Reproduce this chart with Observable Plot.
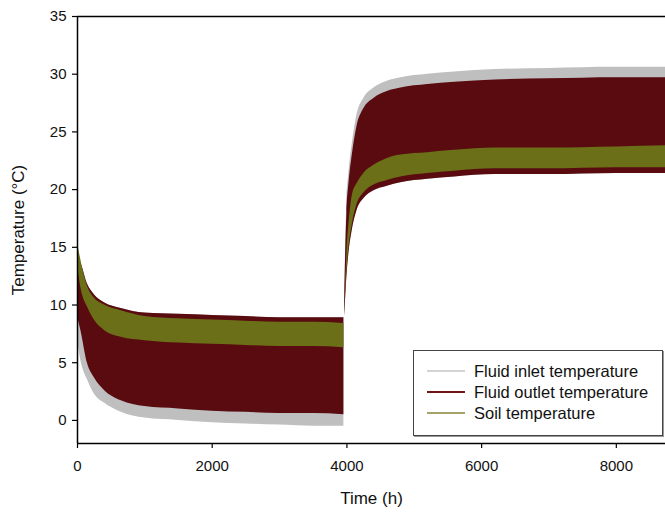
<!DOCTYPE html>
<html>
<head>
<meta charset="utf-8">
<script src="https://cdn.jsdelivr.net/npm/d3@7"></script>
<script src="https://cdn.jsdelivr.net/npm/@observablehq/plot@0.6"></script>
<style>
  body { margin: 0; background: #fff; }
  #wrap { position: relative; width: 665px; height: 514px; overflow: hidden; }
  #legend { position: absolute; left: 413px; top: 350px; width: 248px; height: 84px;
    border: 1px solid #444; background: #fff; box-shadow: 1px 1px 0 #999;
    font-family: "Liberation Sans", Arial, sans-serif; font-size: 16.5px; color: #111; }
  .row { position: absolute; left: 13px; height: 18px; display: flex; align-items: center; white-space: nowrap; }
  .sw { width: 38px; height: 2px; margin-right: 9px; }
</style>
</head>
<body>
<div id="wrap"><div id="chart"></div><div id="legend"></div></div>
<script>
// Winter (heating) period, hours
const t1 = [0, 50, 150, 250, 400, 650, 1000, 1500, 2000, 2500, 3000, 3500, 3955];
const inletLo1  = [7.0, 5.2, 3.5, 2.3, 1.5, 0.7, 0.2, 0.0, -0.2, -0.3, -0.4, -0.5, -0.5];
const inletHi1  = [14.0, 13.6, 11.8, 10.9, 10.2, 9.7, 9.3, 9.2, 9.1, 9.0, 8.9, 8.9, 8.9];
const outletLo1 = [9.0, 7.8, 4.9, 3.7, 2.6, 1.7, 1.2, 1.0, 0.8, 0.7, 0.6, 0.6, 0.5];
const outletHi1 = [14.0, 13.6, 11.8, 10.9, 10.2, 9.7, 9.3, 9.2, 9.1, 9.0, 8.9, 8.9, 8.9];
const soilLo1   = [13.5, 11.5, 9.8, 8.7, 7.8, 7.2, 6.9, 6.7, 6.6, 6.5, 6.4, 6.4, 6.3];
const soilHi1   = [15.4, 13.9, 11.6, 10.6, 10.0, 9.5, 9.0, 8.8, 8.7, 8.6, 8.5, 8.5, 8.4];

// Summer (cooling) period, hours
const t2 = [3965, 3980, 4000, 4030, 4080, 4150, 4250, 4400, 4600, 4800, 5200, 5600, 6200, 7000, 8000, 8760];
const inletLo2  = [9.0, 10.5, 12.5, 14.5, 16.5, 18.2, 19.2, 19.9, 20.3, 20.6, 20.9, 21.1, 21.3, 21.3, 21.4, 21.4];
const inletHi2  = [10.5, 15, 19, 21.5, 24, 26.5, 27.9, 28.8, 29.4, 29.7, 30.0, 30.2, 30.4, 30.5, 30.6, 30.6];
const outletLo2 = [9.0, 10.5, 12.5, 14.5, 16.5, 18.2, 19.2, 19.9, 20.3, 20.6, 20.9, 21.1, 21.3, 21.3, 21.4, 21.4];
const outletHi2 = [10, 14, 18, 20.5, 23, 25.5, 27.0, 27.9, 28.5, 28.8, 29.1, 29.3, 29.5, 29.6, 29.7, 29.7];
const soilLo2   = [9.3, 11.0, 13.0, 15.0, 17.0, 18.7, 19.7, 20.4, 20.8, 21.1, 21.4, 21.6, 21.8, 21.8, 21.9, 21.9];
const soilHi2   = [9.6, 11.5, 14.5, 17.0, 19.5, 20.5, 21.4, 22.1, 22.7, 23.0, 23.2, 23.4, 23.6, 23.6, 23.7, 23.8];

const seriesNames = ["Fluid inlet temperature", "Fluid outlet temperature", "Soil temperature"];
const seriesColors = ["#bfbfbf", "#590b10", "#6a6f18"];
const legendColors = ["#d4d4d4", "#6e1518", "#a3a36a"];
const xTicks = [0, 2000, 4000, 6000, 8000];
const yTicks = [0, 5, 10, 15, 20, 25, 30, 35];

function rows(lo1, hi1, lo2, hi2) {
  const r = [];
  t1.forEach((t, i) => r.push({t, lo: lo1[i], hi: hi1[i], phase: "winter"}));
  t2.forEach((t, i) => r.push({t, lo: lo2[i], hi: hi2[i], phase: "summer"}));
  return r;
}
const inlet = rows(inletLo1, inletHi1, inletLo2, inletHi2);
const outlet = rows(outletLo1, outletHi1, outletLo2, outletHi2);
const soil = rows(soilLo1, soilHi1, soilLo2, soilHi2);

const font = '"Liberation Sans", Arial, sans-serif';
const chart = Plot.plot({
  width: 665, height: 514,
  marginLeft: 77, marginTop: 16, marginRight: 0, marginBottom: 71,
  style: {fontFamily: font, fontSize: "15px", color: "#111", background: "#fff"},
  x: {domain: [0, 8730]},
  y: {domain: [-2, 35]},
  marks: [
    Plot.areaY(inlet, {x: "t", y1: "lo", y2: "hi", z: "phase", fill: seriesColors[0], curve: "monotone-x"}),
    Plot.areaY(outlet, {x: "t", y1: "lo", y2: "hi", z: "phase", fill: seriesColors[1], curve: "monotone-x"}),
    Plot.areaY(soil, {x: "t", y1: "lo", y2: "hi", z: "phase", fill: seriesColors[2], curve: "monotone-x"}),
    Plot.ruleX([0], {stroke: "#000", strokeWidth: 1.5}),
    Plot.ruleY([-2], {stroke: "#000", strokeWidth: 1.5}),
    Plot.ruleY([35], {stroke: "#000", strokeWidth: 1.5}),
    Plot.axisX({ticks: xTicks, tickSize: 5, tickPadding: 12, tickFormat: d => String(d), label: null, stroke: "#000", strokeWidth: 1.2}),
    Plot.axisY({ticks: yTicks, tickSize: 5, tickPadding: 6, tickFormat: d => String(d), label: null, stroke: "#000", strokeWidth: 1.2}),
    Plot.text(["Time (h)"], {frameAnchor: "bottom", dy: 60, fontSize: 17, fill: "#111"}),
    Plot.text(["Temperature (°C)"], {frameAnchor: "left", textAnchor: "middle", dx: -59, rotate: -90, fontSize: 17, fill: "#111"})
  ]
});
document.getElementById("chart").appendChild(chart);

const legend = document.getElementById("legend");
seriesNames.forEach((name, i) => {
  const row = document.createElement("div");
  row.className = "row";
  row.style.top = (11 + i * 21) + "px";
  const sw = document.createElement("span");
  sw.className = "sw";
  sw.style.background = legendColors[i];
  const tx = document.createElement("span");
  tx.textContent = name;
  row.appendChild(sw); row.appendChild(tx);
  legend.appendChild(row);
});
</script>
</body>
</html>
